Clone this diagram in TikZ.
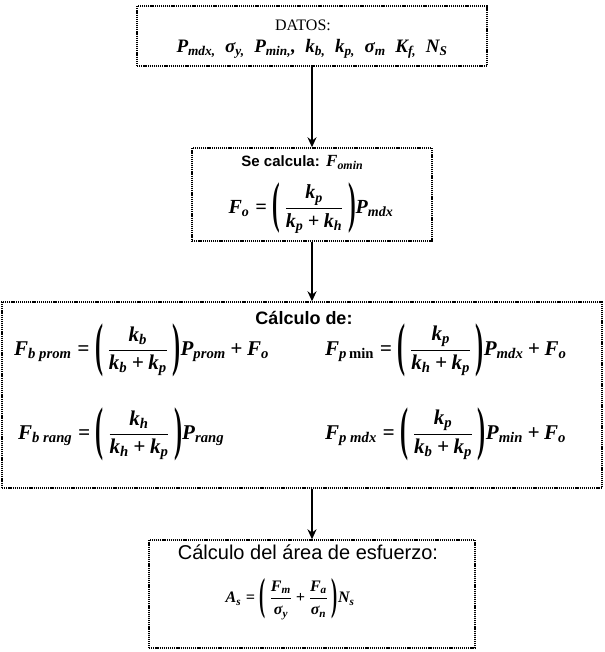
\documentclass[tikz,border=0pt]{standalone}
\usepackage{fontspec}
\usepackage{amsmath}
\usepackage{graphicx}
\setmainfont{Liberation Serif}
\setsansfont{Liberation Sans}
\usetikzlibrary{arrows.meta}
\newcommand\tx[1]{\text{#1}}
\newcommand\eq{\mathrel{\text{=}}}
\newcommand\pl{\mathbin{\text{+}}}
\newcommand\gp{\;\;}
\newcommand\lp{\mathopen{\vcenter{\hbox{\scalebox{1.15}[2.8]{\upshape\bfseries(}}}}\mskip4mu}
\newcommand\rp{\mskip4mu\mathclose{\vcenter{\hbox{\scalebox{1.15}[2.8]{\upshape\bfseries)}}}}}
\tikzset{
  box/.style={draw, line width=1.4pt, dash pattern=on 1.2pt off 0.9pt, inner sep=0pt},
  arr/.style={line width=1.5pt, -{Stealth[length=10pt,width=9pt]}},
  fml/.style={font=\fontsize{21}{25}\selectfont\bfseries\itshape, inner sep=0pt},
}
\begin{document}
\begin{tikzpicture}[x=1pt,y=-1pt]
\useasboundingbox[fill=white] (0,0) rectangle (604,652);
% boxes
\node[box, minimum width=350pt, minimum height=60pt] (b1) at (312,36) {};
\node[box, minimum width=240pt, minimum height=93pt] (b2) at (312,194.5) {};
\node[box, minimum width=600pt, minimum height=186pt] (b3) at (302,395) {};
\node[box, minimum width=326pt, minimum height=108pt] (b4) at (312,594) {};
% arrows
\draw[arr] (b1.south) -- (b2.north);
\draw[arr] (b2.south) -- (b2.south |- b3.north);
\draw[arr] (b3.south -| b4.north) -- (b4.north);
% box 1
\node[inner sep=0pt, font=\fontsize{16}{19}\selectfont] (t1) at (303,25) {DATOS:};
\node[fml, font=\fontsize{19}{22}\selectfont\bfseries\itshape] (t2) at (312,49) {$\tx{P}_{\tx{mdx,}}\gp\tx{σ}_{\tx{y,}}\gp\tx{P}_{\tx{min,}}\tx{,}\gp\tx{k}_{\tx{b,}}\gp\tx{k}_{\tx{p,}}\gp\tx{σ}_{\tx{m}}\gp\tx{K}_{\tx{f,}}\gp\tx{N}_{\tx{S}}$};
% box 2
\node[inner sep=0pt, anchor=base east, font=\fontsize{15}{18}\selectfont\sffamily\bfseries] (t3) at (320,167) {Se calcula:};
\node[inner sep=0pt, anchor=base west, font=\fontsize{17}{20}\selectfont\bfseries\itshape] (t3b) at (326,167) {$\tx{F}_{\tx{omin}}$};
\node[fml, font=\fontsize{20}{24}\selectfont\bfseries\itshape] (t4) at (311,208) {$\tx{F}_{\tx{o}} \eq \lp\dfrac{\tx{k}_{\tx{p}}}{\tx{k}_{\tx{p}} \pl \tx{k}_{\tx{h}}}\rp\tx{P}_{\tx{mdx}}$};
% box 3
\node[inner sep=0pt, font=\fontsize{18}{21}\selectfont\sffamily\bfseries] (t5) at (304,318) {Cálculo de:};
\node[fml, anchor=west] (f1) at (14,350) {$\tx{F}_{\tx{b prom}} \eq \lp\dfrac{\tx{k}_{\tx{b}}}{\tx{k}_{\tx{b}} \pl \tx{k}_{\tx{p}}}\rp\tx{P}_{\tx{prom}} \pl \tx{F}_{\tx{o}}$};
\node[fml, anchor=west] (f2) at (325,350) {$\tx{F}_{\tx{p\,\upshape min}} \eq \lp\dfrac{\tx{k}_{\tx{p}}}{\tx{k}_{\tx{h}} \pl \tx{k}_{\tx{p}}}\rp\tx{P}_{\tx{mdx}} \pl \tx{F}_{\tx{o}}$};
\node[fml, anchor=west] (f3) at (18,434) {$\tx{F}_{\tx{b rang}} \eq \lp\dfrac{\tx{k}_{\tx{h}}}{\tx{k}_{\tx{h}} \pl \tx{k}_{\tx{p}}}\rp\tx{P}_{\tx{rang}}$};
\node[fml, anchor=west] (f4) at (325,434) {$\tx{F}_{\tx{p mdx}} \eq \lp\dfrac{\tx{k}_{\tx{p}}}{\tx{k}_{\tx{b}} \pl \tx{k}_{\tx{p}}}\rp\tx{P}_{\tx{min}} \pl \tx{F}_{\tx{o}}$};
% box 4
\node[inner sep=0pt, font=\fontsize{20}{24}\selectfont\sffamily] (t6) at (308,552) {Cálculo del área de esfuerzo:};
\node[fml, font=\fontsize{16}{19}\selectfont\bfseries\itshape] (t7) at (290,599) {$\tx{A}_{\tx{s}} \eq \lp\dfrac{\tx{F}_{\tx{m}}\rule[-3pt]{0pt}{0pt}}{\rule{0pt}{13pt}\tx{σ}_{\tx{y}}} \pl \dfrac{\tx{F}_{\tx{a}}\rule[-3pt]{0pt}{0pt}}{\rule{0pt}{13pt}\tx{σ}_{\tx{n}}}\rp\tx{N}_{\tx{s}}$};
\end{tikzpicture}
\end{document}
